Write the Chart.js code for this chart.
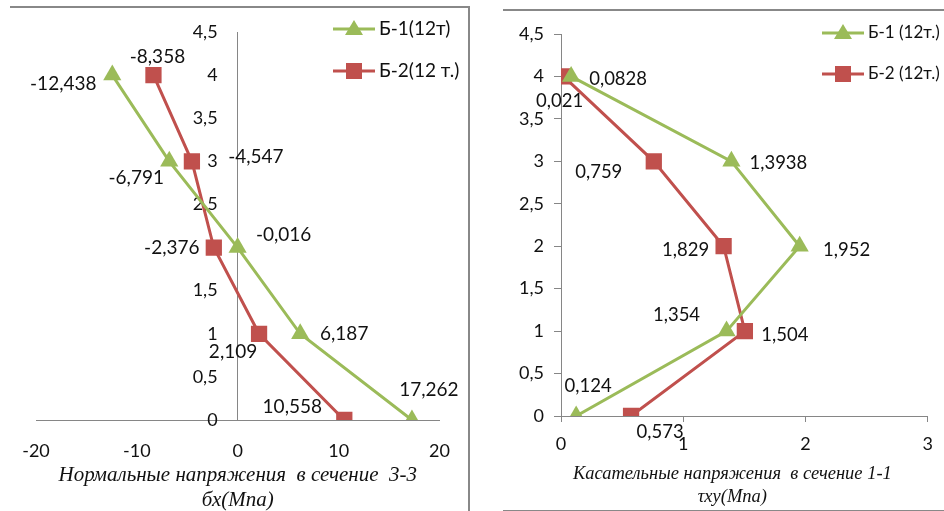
<!DOCTYPE html>
<html>
<head>
<meta charset="utf-8">
<script src="https://cdn.jsdelivr.net/npm/chart.js@4.4.0/dist/chart.umd.min.js"></script>
<style>
  body { margin: 0; background: #fff; width: 944px; height: 511px; overflow: hidden; position: relative; }
  canvas { position: absolute; top: 0; }
  #left { left: 0; }
  #right { left: 480px; }
  .frame { position: absolute; border: 0 solid #888; }
</style>
</head>
<body>
<div class="frame" style="left:10px;top:6px;width:458px;height:510px;border-top-width:2px;border-right-width:2px;"></div>
<div class="frame" style="left:503px;top:9px;width:441px;height:499px;border-top-width:2px;border-bottom-width:2px;"></div>
<canvas id="left" width="470" height="511"></canvas>
<canvas id="right" width="464" height="511"></canvas>
<script>
// --- data ---
const levels = [0, 1, 2, 3, 4];

const sigmaNames = ["Б-1(12т)", "Б-2(12 т.)"];
const sigmaB1 = [17.262, 6.187, -0.016, -6.791, -12.438];
const sigmaB2 = [10.558, 2.109, -2.376, -4.547, -8.358];

const tauNames = ["Б-1 (12т.)", "Б-2 (12т.)"];
const tauB1 = [0.124, 1.354, 1.952, 1.3938, 0.0828];
const tauB2 = [0.573, 1.504, 1.33, 0.759, 0.021];
const tauB2Labels = ["0,573", "1,504", "1,829", "0,759", "0,021"];

const yTicks = [0, 0.5, 1, 1.5, 2, 2.5, 3, 3.5, 4, 4.5];
const sigmaTicks = [-20, -10, 0, 10, 20];
const tauTicks = [0, 1, 2, 3];

const sigmaTitle = ["Нормальные напряжения  в сечение  3-3", "бх(Мпа)"];
const tauTitle = ["Касательные напряжения  в сечение 1-1", "τxy(Мпа)"];

// label offsets from the point (px)
const sigmaB1Off = [[17, -30], [44, 0], [46, -13], [-33, 17], [-49, 9]];
const sigmaB2Off = [[-52, -13], [-26, 18], [-42, 0], [64, -4], [4, -18]];
const tauB1Off = [[12, -30], [-50, -16], [47, 4], [47, 2], [47, 3]];
const tauB2Off = [[29, 16], [40, 4], [-38, 4], [-55, 11], [-4, 25]];

// --- styles ---
const GREEN = "#9BBB59";
const RED = "#C0504D";
const AXIS = "#868686";
const FONT = "Lato";
const fmt = v => String(v).replace(".", ",");
const toPts = (xs) => xs.map((x, i) => ({ x: x, y: levels[i] }));

function series(name, xs, color, shape, labels, offsets) {
  return {
    label: name,
    data: toPts(xs),
    showLine: true,
    borderColor: color,
    backgroundColor: color,
    borderWidth: 3,
    pointStyle: shape,
    pointRadius: shape === "triangle" ? 10.5 : 11.5,
    pointHoverRadius: shape === "triangle" ? 10.5 : 11.5,
    pointBorderWidth: 0,
    pointBackgroundColor: color,
    labels: labels || xs.map(fmt),
    labelOffsets: offsets
  };
}

// data labels next to every point
const pointLabels = {
  id: "pointLabels",
  afterDatasetsDraw(chart, args, opts) {
    const ctx = chart.ctx;
    ctx.save();
    ctx.font = opts.size + "px " + FONT;
    ctx.fillStyle = "#111";
    ctx.textAlign = "center";
    ctx.textBaseline = "middle";
    chart.data.datasets.forEach((ds, i) => {
      chart.getDatasetMeta(i).data.forEach((pt, j) => {
        const off = ds.labelOffsets[j];
        ctx.fillText(ds.labels[j], pt.x + off[0], pt.y + off[1]);
      });
    });
    ctx.restore();
  }
};

// excel-like legend: line with marker in the middle
const lineLegend = {
  id: "lineLegend",
  afterDraw(chart, args, opts) {
    const ctx = chart.ctx;
    ctx.save();
    chart.data.datasets.forEach((ds, i) => {
      const y = opts.y + i * opts.dy;
      ctx.strokeStyle = ds.borderColor;
      ctx.lineWidth = 3;
      ctx.beginPath();
      ctx.moveTo(opts.x, y);
      ctx.lineTo(opts.x + 42, y);
      ctx.stroke();
      const cx = opts.x + 21;
      ctx.fillStyle = ds.borderColor;
      ctx.beginPath();
      if (ds.pointStyle === "triangle") {
        ctx.moveTo(cx, y - 9);
        ctx.lineTo(cx + 9, y + 6);
        ctx.lineTo(cx - 9, y + 6);
        ctx.closePath();
      } else {
        ctx.rect(cx - 8, y - 8, 16, 16);
      }
      ctx.fill();
      ctx.fillStyle = "#111";
      ctx.font = opts.size + "px " + FONT;
      ctx.textAlign = "left";
      ctx.textBaseline = "middle";
      ctx.fillText(ds.label, opts.x + 46, y);
    });
    ctx.restore();
  }
};

// two-line caption under the x axis
const caption = {
  id: "caption",
  afterDraw(chart, args, opts) {
    const ctx = chart.ctx;
    const cx = (chart.chartArea.left + chart.chartArea.right) / 2 + opts.shift;
    ctx.save();
    ctx.fillStyle = "#111";
    ctx.font = "italic " + opts.size + "px 'Liberation Serif'";
    ctx.textAlign = "center";
    ctx.textBaseline = "middle";
    opts.lines.forEach((t, i) => ctx.fillText(t, cx, opts.y + i * opts.gap));
    ctx.restore();
  }
};

const tickFont = { family: FONT, size: 18 };

// --- left chart: normal stress ---
new Chart(document.getElementById("left"), {
  type: "scatter",
  data: {
    datasets: [
      series(sigmaNames[0], sigmaB1, GREEN, "triangle", null, sigmaB1Off),
      series(sigmaNames[1], sigmaB2, RED, "rect", null, sigmaB2Off)
    ]
  },
  options: {
    responsive: false,
    animation: false,
    layout: { padding: { left: 36, right: 24, top: 32, bottom: 0 } },
    plugins: {
      legend: { display: false },
      tooltip: { enabled: false },
      pointLabels: { size: 19 },
      lineLegend: { x: 333, y: 29, dy: 42, size: 19 },
      caption: { lines: sigmaTitle, size: 21, y: 475, gap: 25, shift: 0 }
    },
    scales: {
      x: {
        type: "linear", min: -20, max: 20,
        afterBuildTicks: s => { s.ticks = sigmaTicks.map(v => ({ value: v })); },
        afterFit: s => { s.height = 91; },
        // only the zero line is kept: it is the vertical axis
        grid: {
          drawTicks: false,
          color: c => (c.tick && c.tick.value === 0 ? AXIS : "transparent")
        },
        border: { color: AXIS, width: 1 },
        ticks: { padding: 20, color: "#111", font: tickFont, callback: fmt }
      },
      y: {
        type: "linear", min: 0, max: 4.5,
        position: { x: -2 },
        afterBuildTicks: s => { s.ticks = yTicks.map(v => ({ value: v })); },
        afterFit: s => { s.width = 0; },
        grid: { display: false, drawTicks: false },
        border: { display: false },
        ticks: { color: "#111", font: tickFont, callback: fmt }
      }
    }
  },
  plugins: [pointLabels, lineLegend, caption]
});

// --- right chart: shear stress ---
new Chart(document.getElementById("right"), {
  type: "scatter",
  data: {
    datasets: [
      series(tauNames[0], tauB1, GREEN, "triangle", null, tauB1Off),
      series(tauNames[1], tauB2, RED, "rect", tauB2Labels, tauB2Off)
    ]
  },
  options: {
    responsive: false,
    animation: false,
    layout: { padding: { left: 0, right: 14, top: 34, bottom: 0 } },
    plugins: {
      legend: { display: false },
      tooltip: { enabled: false },
      pointLabels: { size: 18.5 },
      lineLegend: { x: 342, y: 33, dy: 41, size: 17 },
      caption: { lines: tauTitle, size: 18.5, y: 474, gap: 23, shift: -12 }
    },
    scales: {
      x: {
        type: "linear", min: 0, max: 3,
        afterBuildTicks: s => { s.ticks = tauTicks.map(v => ({ value: v })); },
        afterFit: s => { s.height = 95; },
        grid: { drawOnChartArea: false, color: AXIS, tickLength: 6 },
        border: { color: AXIS, width: 1 },
        ticks: { padding: 11, color: "#111", font: tickFont, callback: fmt }
      },
      y: {
        type: "linear", min: 0, max: 4.5,
        afterBuildTicks: s => { s.ticks = yTicks.map(v => ({ value: v })); },
        afterFit: s => { s.width = 81; },
        grid: { drawOnChartArea: false, color: AXIS, tickLength: 7 },
        border: { color: AXIS, width: 1 },
        ticks: { padding: 10, color: "#111", font: tickFont, callback: fmt }
      }
    }
  },
  plugins: [pointLabels, lineLegend, caption]
});
</script>
</body>
</html>
